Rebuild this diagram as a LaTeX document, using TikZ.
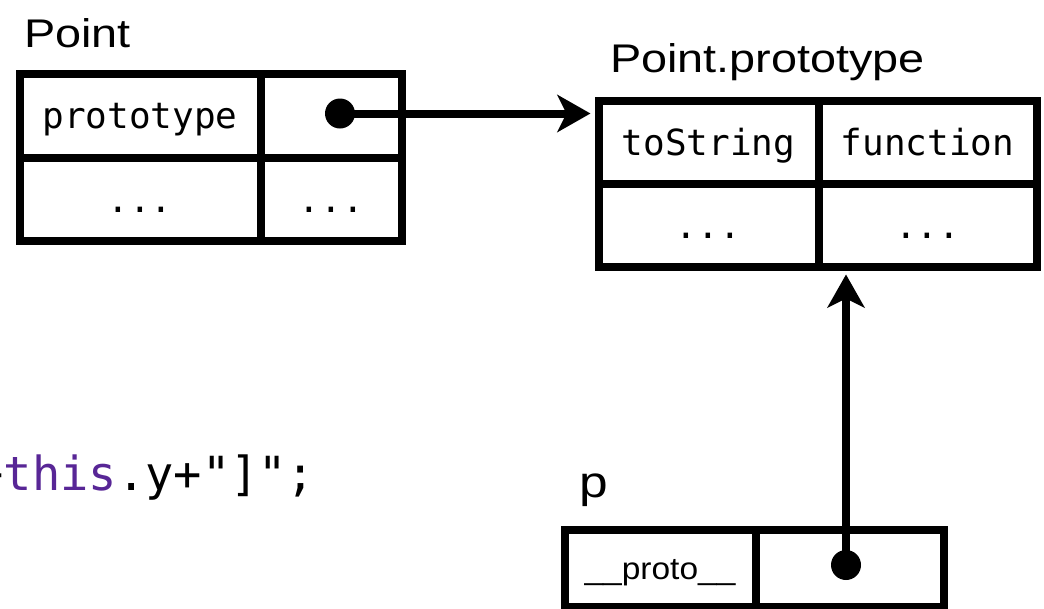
\documentclass[tikz,border=0pt]{standalone}
\usepackage{fontspec}
\usetikzlibrary{arrows.meta}
\newfontfamily\lblfont[FakeStretch=1.17]{Liberation Sans}
\newfontfamily\protofont[FakeStretch=1.08]{Liberation Sans}
\newfontfamily\codefont{DejaVu Sans Mono}
\definecolor{kwpurple}{RGB}{88,38,150}
\begin{document}
\begin{tikzpicture}[x=1pt,y=-1pt,
  cell/.style={draw, line width=8pt, rectangle, inner sep=0pt,
    text height=30pt, text depth=4pt,
    font=\codefont\fontsize{36}{40}\selectfont},
  lbl/.style={inner sep=0pt, anchor=base west, font=\lblfont\fontsize{40}{46}\selectfont},
  ptr/.style={circle, fill, inner sep=0pt, minimum size=30pt},
  link/.style={line width=8pt, -{Stealth[length=33pt,width=37pt,inset=9pt]}, shorten >=4pt}]
\useasboundingbox (0,0) rectangle (1044,608);

% Point table
\node[cell, minimum width=241pt, minimum height=84.5pt] (pa) at (140,115.75) {prototype};
\node[cell, minimum width=141.5pt, minimum height=84.5pt] (pb) at (331.25,115.75) {};
\node[cell, minimum width=241pt, minimum height=83pt] (pc) at (140,199.5) {...};
\node[cell, minimum width=141.5pt, minimum height=83pt] (pd) at (331.25,199.5) {...};
\node[lbl] (lp) at (24,47) {Point};

% Point.prototype table
\node[cell, minimum width=220pt, minimum height=83.5pt] (qa) at (708.5,142.25) {toString};
\node[cell, minimum width=218pt, minimum height=83.5pt] (qb) at (927.5,142.25) {function};
\node[cell, minimum width=220pt, minimum height=82.5pt] (qc) at (708.5,225.25) {...};
\node[cell, minimum width=218pt, minimum height=82.5pt] (qd) at (927.5,225.25) {...};
\node[lbl] (lq) at (610,72) {Point.prototype};

% p table
\node[cell, minimum width=191pt, minimum height=77pt, text height=24pt, text depth=2pt,
  font=\protofont\fontsize{31}{36}\selectfont] (ra) at (660,568) {\_\_proto\_\_};
\node[cell, minimum width=188.5pt, minimum height=77pt] (rb) at (849.75,568) {};
\node[lbl, font=\lblfont\fontsize{44}{50}\selectfont] (lr) at (579,497) {p};

% code fragment
\node[inner sep=0pt, anchor=base west, font=\codefont\fontsize{47}{52}\selectfont] (code)
  at (-24.5,490) {+\textcolor{kwpurple}{this}.y+"]";};

% pointers
\node[ptr] (da) at (340,113.5) {};
\node[ptr] (dr) at (846,565) {};
\draw[link] (da.center) -- (qa.west |- da.center);
\draw[link] (dr.center) -- (qd.south -| dr.center);
\end{tikzpicture}
\end{document}
